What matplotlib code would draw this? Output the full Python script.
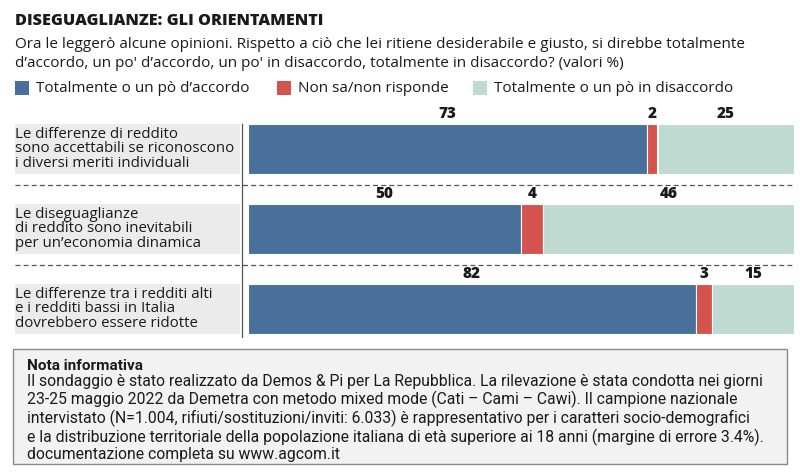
import matplotlib
matplotlib.use("Agg")
import matplotlib.pyplot as plt
from matplotlib.patches import Rectangle

categories = [
    "Le differenze di reddito\nsono accettabili se riconoscono\ni diversi meriti individuali",
    "Le diseguaglianze\ndi reddito sono inevitabili\nper un\u2019economia dinamica",
    "Le differenze tra i redditi alti\ne i redditi bassi in Italia\ndovrebbero essere ridotte",
]
series_names = ["Totalmente o un pò d\u2019accordo", "Non sa/non risponde", "Totalmente o un pò in disaccordo"]
accordo = [73, 50, 82]
non_sa = [2, 4, 3]
disaccordo = [25, 46, 15]
colors = ["#48709a", "#d4534d", "#bedad1"]

title = "DISEGUAGLIANZE: GLI ORIENTAMENTI"
subtitle = ("Ora le leggerò alcune opinioni. Rispetto a ciò che lei ritiene desiderabile e giusto, si direbbe totalmente\n"
            "d\u2019accordo, un po' d\u2019accordo, un po' in disaccordo, totalmente in disaccordo? (valori %)")
note_title = "Nota informativa"
note_text = ("Il sondaggio è stato realizzato da Demos & Pi per La Repubblica. La rilevazione è stata condotta nei giorni\n"
             "23-25 maggio 2022 da Demetra con metodo mixed mode (Cati \u2013 Cami \u2013 Cawi). Il campione nazionale\n"
             "intervistato (N=1.004, rifiuti/sostituzioni/inviti: 6.033) è rappresentativo per i caratteri socio-demografici\n"
             "e la distribuzione territoriale della popolazione italiana di età superiore ai 18 anni (margine di errore 3.4%).\n"
             "documentazione completa su www.agcom.it")

plt.rcParams['font.family'] = ['Open Sans', 'DejaVu Sans']
W, H = 800, 476
fig = plt.figure(figsize=(8, 4.76), dpi=100)
fig.patch.set_facecolor("white")

bg = fig.add_axes([0, 0, 1, 1])
bg.set_xlim(0, W)
bg.set_ylim(H, 0)
bg.axis("off")

TXT = "#1a1a1a"
bg.text(15, 21, title, fontsize=11.7, fontweight="heavy", color=TXT, va="center", ha="left")
bg.text(15, 54, subtitle, fontsize=11, color=TXT, va="center", ha="left", linespacing=1.3)

# legend
leg_x = [15, 277, 473]
for lx, name, c in zip(leg_x, series_names, colors):
    bg.add_patch(Rectangle((lx, 81), 14, 14, facecolor=c, edgecolor="none"))
    bg.text(lx + 21, 88, name, fontsize=11, color=TXT, va="center", ha="left")

# bar axes: pixel geometry
x0, x1 = 248, 794
ytop, ybot = 100, 345
ax = fig.add_axes([x0 / W, 1 - ybot / H, (x1 - x0) / W, (ybot - ytop) / H])
row_step = 80.0
first_center = 149.0
ax.set_xlim(0, 100)
ax.set_ylim((ybot - first_center) / row_step, (ytop - first_center) / row_step)
ax.axis("off")
ax.patch.set_alpha(0)

ypos = list(range(len(categories)))
bh = 50 / row_step
left = [0] * len(categories)
for vals, c in zip([accordo, non_sa, disaccordo], colors):
    ax.barh(ypos, vals, left=left, height=bh, color=c, edgecolor="white", linewidth=0.8)
    for y, v, l in zip(ypos, vals, left):
        ax.text(l + v / 2, y - bh / 2 - 0.125, str(v), ha="center", va="center",
                fontsize=11, fontweight="heavy", color=TXT)
    left = [l + v for l, v in zip(left, vals)]

# label boxes and row text
for i, cat in enumerate(categories):
    cy = first_center + row_step * i
    bg.add_patch(Rectangle((15, cy - 25), 225, 50, facecolor="#ebebeb", edgecolor="none"))
    bg.text(15, cy, cat, fontsize=10.8, color=TXT, va="center", ha="left", linespacing=0.95)

# separators
for i in range(len(categories) - 1):
    sy = first_center + row_step * i + 36
    bg.plot([15, 794], [sy, sy], color="#555555", lw=0.9, ls=(0, (4, 2.5)))
bg.plot([242, 242], [124, 337], color="#555555", lw=0.9)

# note box
bg.add_patch(Rectangle((13, 349), 774, 115, facecolor="#f2f2f2", edgecolor="#8a8a8a", lw=1.0))
nf = ['Roboto', 'DejaVu Sans']
bg.text(27, 366, note_title, fontsize=11, fontweight="bold", color=TXT, va="center", ha="left", family=nf)
bg.text(27, 418, note_text, fontsize=11.3, color=TXT, va="center", ha="left", family=nf, linespacing=1.12)

fig.savefig("out.png", dpi=100, facecolor="white")
